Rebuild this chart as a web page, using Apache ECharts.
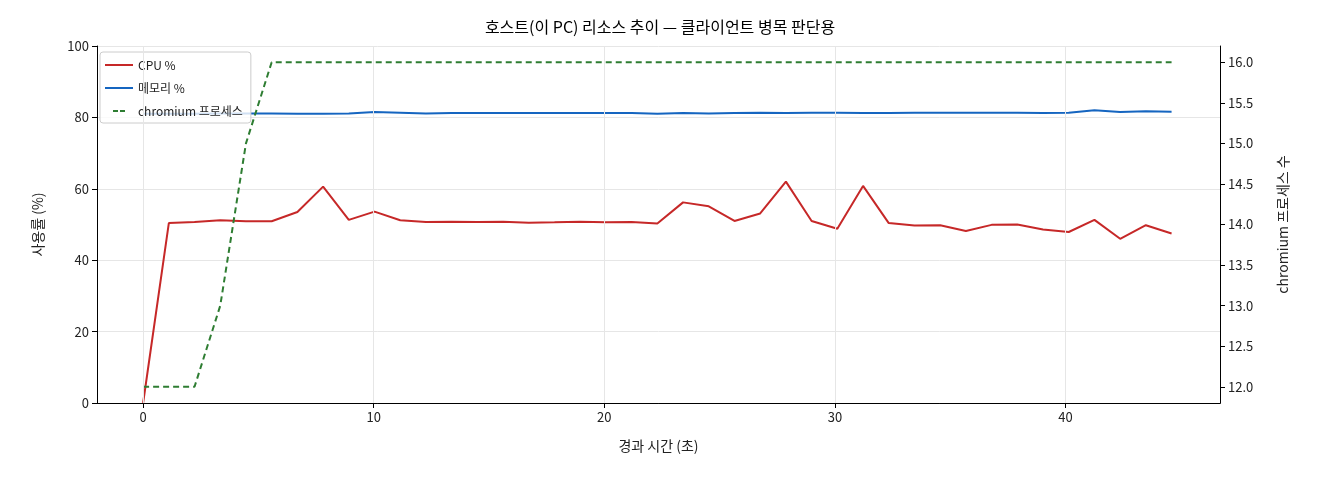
<!DOCTYPE html><html><head><meta charset="utf-8"><script src="https://cdn.jsdelivr.net/npm/echarts@6/dist/echarts.min.js"></script></head><body style="margin:0"><div id="c" style="width:1320px;height:480px"></div><script>
const times=[0,1.115,2.23,3.345,4.46,5.575,6.69,7.805,8.92,10.035,11.15,12.265,13.38,14.495,15.61,16.725,17.84,18.955,20.07,21.185,22.3,23.415,24.53,25.645,26.76,27.875,28.99,30.105,31.22,32.335,33.45,34.565,35.68,36.795,37.91,39.025,40.14,41.255,42.37,43.485,44.6];
const cpu=[0,50.4,50.7,51.2,50.9,50.9,53.5,60.6,51.3,53.6,51.2,50.7,50.8,50.7,50.8,50.5,50.6,50.8,50.6,50.7,50.3,56.2,55.1,51.0,53.1,62.0,51.0,48.8,60.8,50.4,49.7,49.8,48.2,49.9,50.0,48.6,47.9,51.3,46.0,49.8,47.5];
const mem=[81.0,81.0,81.0,81.1,81.1,81.1,81.0,81.0,81.1,81.5,81.3,81.1,81.2,81.2,81.2,81.2,81.2,81.2,81.2,81.2,81.0,81.2,81.1,81.2,81.3,81.2,81.3,81.3,81.2,81.2,81.3,81.3,81.3,81.3,81.3,81.2,81.3,82.0,81.5,81.7,81.6];
const procs=[12,12,12,13,15,16,16,16,16,16,16,16,16,16,16,16,16,16,16,16,16,16,16,16,16,16,16,16,16,16,16,16,16,16,16,16,16,16,16,16,16];
const xTicks=[0,10,20,30,40];
const yTicks=[0,20,40,60,80,100];
const y2Ticks=[12,12.5,13,13.5,14,14.5,15,15.5,16];
const F='"Noto Sans CJK KR", "DejaVu Sans", sans-serif';
const pair=a=>a.map((v,i)=>[times[i],v]);
const ax={axisLine:{show:true,onZero:false,lineStyle:{color:'#000'}},axisTick:{show:true,length:5,lineStyle:{color:'#000'}},axisLabel:{color:'#222',fontSize:13,fontFamily:F}};
const chart=echarts.init(document.getElementById('c'));
chart.setOption({animation:false,
title:{text:'호스트(이 PC) 리소스 추이 — 클라이언트 병목 판단용',left:'center',top:14,textStyle:{fontSize:16,fontWeight:'normal',color:'#000',fontFamily:F}},
grid:{left:97,right:100,top:46,bottom:77},
legend:{orient:'vertical',left:100,top:52,itemWidth:28,itemHeight:2,itemGap:11,borderColor:'#ccc',borderWidth:1,borderRadius:3,padding:[7,8,6,5],backgroundColor:'rgba(255,255,255,0.8)',textStyle:{fontSize:12,fontFamily:F,color:'#222'},icon:'rect',data:['CPU %','메모리 %',{name:'chromium 프로세스',icon:'path://M0,0h10v4h-10zM14,0h10v4h-10z'}]},
xAxis:[{type:'value',min:-2,max:46.7,name:'경과 시간 (초)',nameLocation:'middle',nameGap:36,nameTextStyle:{fontSize:14,fontFamily:F,color:'#222'},...ax,axisTick:{...ax.axisTick,customValues:xTicks},axisLabel:{...ax.axisLabel,customValues:xTicks},splitLine:{show:false}},
{type:'value',min:-2,max:46.7,position:'top',axisLine:{show:true,lineStyle:{color:'#000'}},axisTick:{show:false},axisLabel:{show:false},splitLine:{show:false}}],
yAxis:[{type:'value',min:0,max:100,interval:20,name:'사용률 (%)',nameLocation:'middle',nameGap:52,nameTextStyle:{fontSize:14,fontFamily:F,color:'#222'},...ax,splitLine:{show:true,lineStyle:{color:'#e6e6e6'}}},
{type:'value',min:11.8,max:16.2,position:'right',name:'chromium 프로세스 수',nameLocation:'middle',nameGap:56,nameRotate:90,nameTextStyle:{fontSize:14,fontFamily:F,color:'#222'},...ax,axisTick:{...ax.axisTick,customValues:y2Ticks},axisLabel:{...ax.axisLabel,customValues:y2Ticks,formatter:v=>v.toFixed(1)},splitLine:{show:false}}],
series:[
{type:'line',name:'메모리 %',data:pair(mem),showSymbol:false,lineStyle:{color:'#1565c0',width:2},itemStyle:{color:'#1565c0'},z:2},
{type:'line',name:'CPU %',data:pair(cpu),showSymbol:false,lineStyle:{color:'#c62828',width:2},itemStyle:{color:'#c62828'},z:3},
{type:'line',name:'chromium 프로세스',yAxisIndex:1,data:pair(procs),showSymbol:false,lineStyle:{color:'#2e7d32',width:2,type:[6,4]},itemStyle:{color:'#2e7d32'},z:4},
{type:'line',data:xTicks.map(v=>[v,0]),silent:true,showSymbol:false,lineStyle:{opacity:0},markLine:{silent:true,symbol:'none',label:{show:false},lineStyle:{color:'#e6e6e6',type:'solid',width:1},data:xTicks.map(v=>({xAxis:v}))},z:0}
]});
</script></body></html>
